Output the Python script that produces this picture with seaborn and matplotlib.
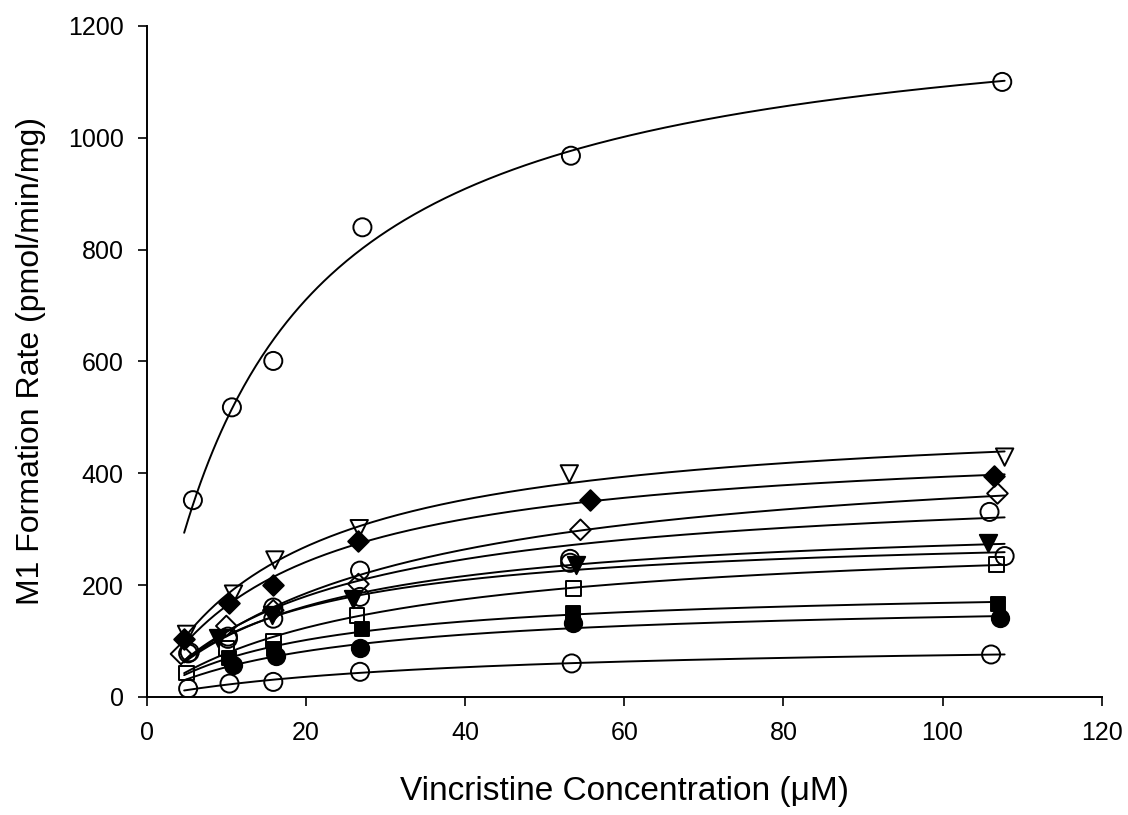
import numpy as np
import matplotlib
matplotlib.use("Agg")
import matplotlib.pyplot as plt
import seaborn as sns

# Vincristine concentrations (uM) and M1 formation rates (pmol/min/mg) per preparation
a_conc = [5.8, 10.7, 15.9, 27.1, 53.3, 107.5]
a_rate = [352, 518, 601, 840, 968, 1100]

b_conc = [5.0, 10.9, 16.1, 26.7, 53.1, 107.8]
b_rate = [112, 184, 245, 301, 399, 429]

c_conc = [4.7, 10.3, 15.9, 26.6, 55.7, 106.5]
c_rate = [104, 168, 200, 279, 353, 396]

d_conc = [4.3, 10.0, 15.9, 26.6, 54.5, 106.9]
d_rate = [77, 127, 155, 202, 299, 364]

e_conc = [5.4, 10.2, 15.9, 26.8, 53.2, 105.9]
e_rate = [80, 108, 160, 226, 247, 331]

f_conc = [9.0, 15.8, 25.9, 54.0, 105.7]
f_rate = [106, 146, 175, 236, 276]

g_conc = [5.2, 10.2, 15.9, 26.8, 53.2, 107.8]
g_rate = [78, 104, 140, 179, 240, 252]

h_conc = [5.0, 10.0, 15.9, 26.4, 53.6, 106.8]
h_rate = [43, 87, 100, 146, 194, 237]

i_conc = [10.3, 16.0, 27.0, 53.6, 107.0]
i_rate = [70, 85, 121, 151, 167]

j_conc = [10.9, 16.2, 26.8, 53.5, 107.2]
j_rate = [58, 74, 87, 132, 141]

k_conc = [5.2, 10.4, 15.9, 26.8, 53.4, 106.1]
k_rate = [15, 24, 27, 45, 60, 76]

x_ticks = [0, 20, 40, 60, 80, 100, 120]
y_ticks = [0, 200, 400, 600, 800, 1000, 1200]

# (concentrations, rates, marker, filled, marker size in points)
series = [
    (a_conc, a_rate, "o", False, 13),
    (b_conc, b_rate, "v", False, 12.5),
    (c_conc, c_rate, "D", True, 10.5),
    (d_conc, d_rate, "D", False, 10.5),
    (e_conc, e_rate, "o", False, 13),
    (f_conc, f_rate, "v", True, 12.5),
    (g_conc, g_rate, "o", False, 13),
    (h_conc, h_rate, "s", False, 10.5),
    (i_conc, i_rate, "s", True, 10.5),
    (j_conc, j_rate, "o", True, 12.5),
    (k_conc, k_rate, "o", False, 13),
]


def michaelis_menten_fit(conc, rate):
    """Least-squares Vmax, Km for v = Vmax*S/(Km+S)."""
    s = np.asarray(conc, float)
    v = np.asarray(rate, float)
    best = (np.inf, 0.0, 0.0)
    for km in np.linspace(0.5, 200, 4000):
        f = s / (km + s)
        vmax = (f @ v) / (f @ f)
        sse = np.sum((v - vmax * f) ** 2)
        if sse < best[0]:
            best = (sse, vmax, km)
    return best[1], best[2]


sns.set_style("ticks")
plt.rcParams["font.family"] = ["Liberation Sans", "DejaVu Sans"]

fig = plt.figure(figsize=(11.28, 8.15), dpi=100)
ax = fig.add_axes([0.1301, 0.1448, 0.8466, 0.8233])

s_curve = np.linspace(4.7, 107.8, 400)
for conc, rate, marker, filled, msize in series:
    vmax, km = michaelis_menten_fit(conc, rate)
    sns.lineplot(x=s_curve, y=vmax * s_curve / (km + s_curve), color="black",
                 linewidth=1.4, ax=ax, zorder=2)
    sns.scatterplot(x=conc, y=rate, marker=marker, s=msize ** 2,
                    facecolor="black" if filled else "none",
                    edgecolor="black", linewidth=1.4, ax=ax, zorder=3)

ax.set_xlim(0, 120)
ax.set_ylim(0, 1200)
ax.set_xticks(x_ticks)
ax.set_yticks(y_ticks)
ax.set_xticklabels([str(t) for t in x_ticks])
ax.set_yticklabels([str(t) for t in y_ticks])
sns.despine(ax=ax)
for side in ("left", "bottom"):
    ax.spines[side].set_linewidth(1.4)
    ax.spines[side].set_color("black")
ax.tick_params(direction="out", length=6.5, width=1.2, color="black",
               labelsize=18, labelcolor="black")
ax.tick_params(axis="x", pad=11)
ax.tick_params(axis="y", pad=10)
ax.set_xlabel("Vincristine Concentration (\u03bcM)", fontsize=24, color="black")
ax.set_ylabel("M1 Formation Rate (pmol/min/mg)", fontsize=23, color="black")
ax.xaxis.set_label_coords(0.5, -0.118)
ax.yaxis.set_label_coords(-0.106, 0.5)
ax.grid(False)

fig.savefig("out.png", dpi=100, facecolor="white")
